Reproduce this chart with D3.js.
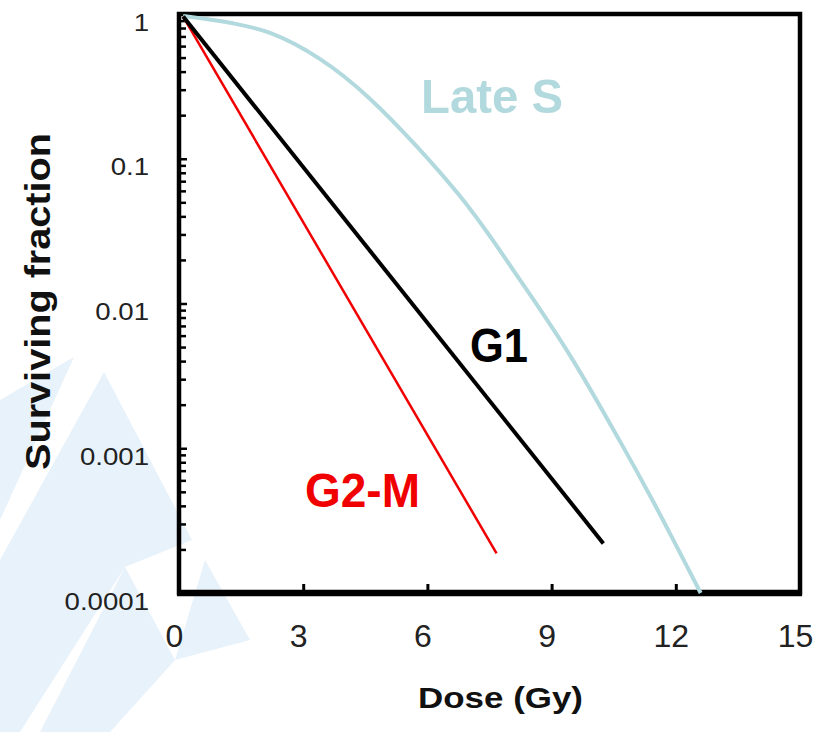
<!DOCTYPE html>
<html>
<head>
<meta charset="utf-8">
<script src="https://cdn.jsdelivr.net/npm/d3@7"></script>
<style>
  body { margin: 0; background: #fff; }
  text { font-family: "Liberation Sans", Arial, sans-serif; }
</style>
</head>
<body>
<div id="chart"></div>
<script>
// data: [dose (Gy), surviving fraction]
const g1 = [[0.1, 0.96], [10.25, 0.00022]]
const g2m = [[0.1, 0.96], [7.67, 0.000188]]
const lateS = [
    [0.1, 0.97], [1.23, 0.87], [2.2, 0.74], [3.4, 0.49], [4.61, 0.26],
    [6.79, 0.055], [8.24, 0.0145], [9.44, 0.0044], [10.65, 0.00112],
    [11.45, 0.00043], [12.6, 0.0001]
]
const xTicks = [0, 3, 6, 9, 12, 15]
const yTicks = [0.0001, 0.001, 0.01, 0.1, 1]
const yLabels = ["0.0001", "0.001", "0.01", "0.1", "1"]

const WIDTH = 820
const HEIGHT = 732
const MARGIN = {top: 14, bot: 139, left: 179, right: 20}

const svg = d3.select("#chart")
    .append("svg")
    .attr("width", WIDTH)
    .attr("height", HEIGHT)

// faint watermark in the lower left corner
const watermark = [
    [[0, 400], [74, 357], [0, 520]],
    [[0, 560], [104, 372], [192, 540], [125, 567], [20, 732], [0, 732]],
    [[125, 567], [175, 660], [110, 732], [40, 732]],
    [[205, 560], [250, 640], [175, 660]],
    [[0, 610], [30, 560], [0, 680]]
]
svg.append("g").selectAll("path")
    .data(watermark)
    .join("path")
    .attr("d", d => "M" + d.join("L") + "Z")
    .attr("fill", "#e8f2fb")

const x = d3.scaleLinear()
    .domain([0, 15])
    .range([MARGIN.left, WIDTH - MARGIN.right])

const y = d3.scaleLog()
    .domain([0.0001, 1])
    .range([HEIGHT - MARGIN.bot, MARGIN.top])

// minor ticks 2..9 in every decade
const minor = []
yTicks.slice(0, -1).forEach(t => {
    for (let k = 2; k <= 9; k++) minor.push(t * k)
})

const yAxis = svg.append("g")
    .attr("transform", `translate(${MARGIN.left}, 0)`)
    .call(d3.axisLeft(y).tickValues(yTicks).tickSize(-8).tickPadding(30)
        .tickFormat((d, i) => yLabels[i]))
yAxis.select(".domain").remove()
yAxis.selectAll("line").attr("stroke-width", 2.5)
yAxis.selectAll("text")
    .attr("font-size", 24)
    .attr("fill", "#222")
    .attr("dy", null)
    .attr("y", 16)
    .each(function () {
        const w = this.getComputedTextLength()
        d3.select(this).attr("textLength", w * 1.15).attr("lengthAdjust", "spacingAndGlyphs")
    })

const yMinor = svg.append("g")
    .attr("transform", `translate(${MARGIN.left}, 0)`)
    .call(d3.axisLeft(y).tickValues(minor).tickSize(-7).tickFormat(""))
yMinor.select(".domain").remove()
yMinor.selectAll("line").attr("stroke-width", 2.5)

const xAxis = svg.append("g")
    .attr("transform", `translate(0, ${HEIGHT - MARGIN.bot})`)
    .call(d3.axisBottom(x).tickValues(xTicks).tickSize(-9).tickPadding(31))
xAxis.select(".domain").remove()
xAxis.selectAll("line").attr("stroke-width", 3)
xAxis.selectAll("text")
    .attr("font-size", 32)
    .attr("fill", "#222")
    .attr("x", -5)

// frame
svg.append("rect")
    .attr("x", x(0))
    .attr("y", y(1))
    .attr("width", x(15) - x(0))
    .attr("height", y(0.0001) - y(1))
    .attr("fill", "none")
    .attr("stroke", "black")
    .attr("stroke-width", 4.5)
svg.append("line")
    .attr("x1", x(0) - 2)
    .attr("x2", x(15) + 2)
    .attr("y1", y(0.0001))
    .attr("y2", y(0.0001))
    .attr("stroke", "black")
    .attr("stroke-width", 6.5)

const line = d3.line()
    .x(d => x(d[0]))
    .y(d => y(d[1]))

svg.append("path")
    .attr("d", line.curve(d3.curveCatmullRom.alpha(0.5))(lateS))
    .attr("fill", "none")
    .attr("stroke", "#b2d9dd")
    .attr("stroke-width", 4)

svg.append("path")
    .attr("d", line.curve(d3.curveLinear)(g2m))
    .attr("fill", "none")
    .attr("stroke", "#f00000")
    .attr("stroke-width", 2.5)

svg.append("path")
    .attr("d", line.curve(d3.curveLinear)(g1))
    .attr("fill", "none")
    .attr("stroke", "black")
    .attr("stroke-width", 4)

// curve labels
const labels = [
    {text: "Late S", x: 421, y: 113, w: 142, color: "#b2d9dd"},
    {text: "G1", x: 470, y: 362, w: 58, color: "black"},
    {text: "G2-M", x: 305, y: 507, w: 115, color: "#f00000"}
]
svg.selectAll(".curve-label")
    .data(labels)
    .join("text")
    .attr("class", "curve-label")
    .attr("x", d => d.x)
    .attr("y", d => d.y)
    .attr("textLength", d => d.w)
    .attr("lengthAdjust", "spacingAndGlyphs")
    .attr("font-size", 49)
    .attr("font-weight", "bold")
    .attr("fill", d => d.color)
    .text(d => d.text)

// axis titles
svg.append("text")
    .attr("transform", "translate(50, 301.5) rotate(-90)")
    .attr("text-anchor", "middle")
    .attr("font-size", 35)
    .attr("font-weight", "bold")
    .attr("textLength", 337)
    .attr("lengthAdjust", "spacingAndGlyphs")
    .attr("fill", "#111")
    .text("Surviving fraction")

svg.append("text")
    .attr("x", 500.5)
    .attr("y", 708)
    .attr("text-anchor", "middle")
    .attr("font-size", 30)
    .attr("font-weight", "bold")
    .attr("textLength", 165)
    .attr("lengthAdjust", "spacingAndGlyphs")
    .attr("fill", "#111")
    .text("Dose (Gy)")
</script>
</body>
</html>
